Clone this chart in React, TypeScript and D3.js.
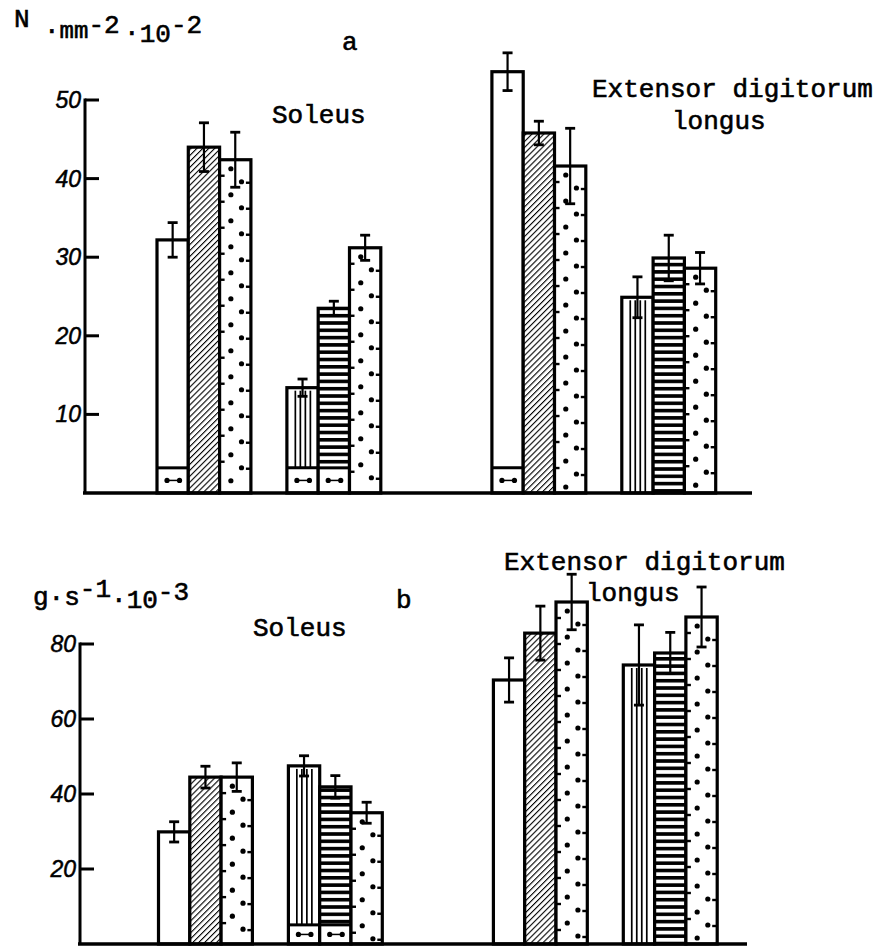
import React from 'react';
import * as d3 from 'd3';

// ---------- DATA ----------
const groupNames = ['Soleus I', 'Soleus II', 'EDL I', 'EDL II'];
const groupFills = [
  ['open', 'hatch', 'dots'],
  ['vstripes', 'hstripes', 'dots'],
  ['open', 'hatch', 'dots'],
  ['vstripes', 'hstripes', 'dots'],
];
// panel a: N·mm^-2·10^-2
const valuesA = [
  [32.2, 44.0, 42.4],
  [13.4, 23.5, 31.2],
  [53.6, 45.8, 41.6],
  [24.9, 29.9, 28.6],
];
const errorsA = [
  [2.2, 3.1, 3.5],
  [1.1, 0.9, 1.6],
  [2.4, 1.5, 4.8],
  [2.6, 2.9, 2.0],
];
const baseA = [
  [3.2, 0, 0],
  [3.2, 3.2, 0],
  [3.2, 0, 0],
  [0, 0, 0],
];
// panel b: g·s^-1·10^-3
const valuesB = [
  [29.9, 44.5, 44.5],
  [47.5, 41.9, 35.0],
  [70.4, 82.9, 91.2],
  [74.4, 77.6, 87.2],
];
const errorsB = [
  [2.7, 2.9, 3.8],
  [2.7, 3.0, 2.8],
  [5.9, 7.2, 7.4],
  [10.7, 5.5, 8.0],
];
const baseB = [
  [0, 0, 0],
  [5.1, 5.1, 0],
  [0, 0, 0],
  [0, 0, 0],
];
const ticksA = [10, 20, 30, 40, 50];
const ticksB = [20, 40, 60, 80];

// ---------- LAYOUT ----------
const W = 889;
const H = 948;
const barW = 31.3;
const smallGap = 1.15; // in bar units
const bigGap = 3.55;
const groupStarts = groupNames.map((_, i) => {
  let s = 0;
  for (let k = 0; k < i; k++) s += 3 + (k === 1 ? bigGap : smallGap);
  return s;
});

const MONO = "'Liberation Mono', 'DejaVu Sans Mono', monospace";
const SANS = "'Liberation Sans', Arial, sans-serif";

type PanelProps = {
  values: number[][];
  errors: number[][];
  bases: number[][];
  ticks: number[];
  yMax: number;
  yTop: number;
  yBottom: number;
  axisX: number;
  xOffset: number;
  baseEnd: number;
  id: string;
};

function Panel({ values, errors, bases, ticks, yMax, yTop, yBottom, axisX, xOffset, baseEnd, id }: PanelProps) {
  const y = d3.scaleLinear().domain([0, yMax]).range([yBottom, yTop]);
  const x = d3.scaleLinear().domain([0, 1]).range([157 + xOffset, 157 + xOffset + barW]);
  const bars: JSX.Element[] = [];
  const overlays: JSX.Element[] = [];

  values.forEach((grp, gi) => {
    grp.forEach((v, bi) => {
      const kind = groupFills[gi][bi];
      const x0 = x(groupStarts[gi] + bi);
      const x1 = x(groupStarts[gi] + bi + 1);
      const w = x1 - x0;
      const yT = y(v);
      const y0 = y(0);
      const key = `${id}-${gi}-${bi}`;
      let fill = 'white';
      if (kind === 'hatch') fill = `url(#hatch)`;
      if (kind === 'hstripes') fill = `url(#hstripe)`;
      bars.push(<rect key={key + 'r'} x={x0} y={yT} width={w} height={y0 - yT} fill={fill} stroke="none" />);
      if (kind === 'vstripes') {
        [0.27, 0.43, 0.59, 0.75].forEach((f, li) => {
          bars.push(
            <line key={key + 'v' + li} x1={x0 + w * f} x2={x0 + w * f} y1={yT + 3} y2={y0} stroke="black" strokeWidth={1.7} />
          );
        });
      }
      if (kind === 'dots') {
        let row = 0;
        for (let yy = yT + 9; yy < y0 - 3; yy += 13) {
          const cx = row % 2 === 0 ? x0 + w * 0.36 : x0 + w * 0.7;
          bars.push(<circle key={key + 'd' + row} cx={cx} cy={yy} r={2.6} fill="black" />);
          if (row % 2 === 1) {
            bars.push(<line key={key + 'tl' + row} x1={x0} x2={x0 + 5} y1={yy - 6} y2={yy - 6} stroke="black" strokeWidth={2.4} />);
            bars.push(<line key={key + 'tr' + row} x1={x1 - 5} x2={x1} y1={yy + 1} y2={yy + 1} stroke="black" strokeWidth={2.4} />);
          }
          row++;
        }
      }
      const b = bases[gi][bi];
      if (b > 0) {
        const yb = y(b);
        bars.push(<rect key={key + 'bb'} x={x0} y={yb} width={w} height={y0 - yb} fill="white" />);
        bars.push(<line key={key + 'bl'} x1={x0} x2={x1} y1={yb} y2={yb} stroke="black" strokeWidth={3} />);
        const my = (yb + y0) / 2;
        bars.push(<line key={key + 'bm'} x1={x0 + w * 0.3} x2={x0 + w * 0.75} y1={my} y2={my} stroke="black" strokeWidth={1.5} />);
        bars.push(<circle key={key + 'bc1'} cx={x0 + w * 0.32} cy={my} r={2.6} fill="black" />);
        bars.push(<circle key={key + 'bc2'} cx={x0 + w * 0.72} cy={my} r={2.6} fill="black" />);
      }
      bars.push(
        <rect key={key + 'o'} x={x0} y={yT} width={w} height={y0 - yT} fill="none" stroke="black" strokeWidth={3.2} />
      );
      const e = errors[gi][bi];
      const cx = x0 + w / 2;
      overlays.push(
        <g key={key + 'e'} stroke="black">
          <line x1={cx} x2={cx} y1={y(v + e)} y2={y(v - e)} strokeWidth={2.2} />
          <line x1={cx - 5} x2={cx + 5} y1={y(v + e)} y2={y(v + e)} strokeWidth={2.8} />
          <line x1={cx - 5} x2={cx + 5} y1={y(v - e)} y2={y(v - e)} strokeWidth={2.8} />
        </g>
      );
    });
  });

  return (
    <g>
      {bars}
      {overlays}
      <line x1={axisX} x2={axisX} y1={y(yMax) - 1.5} y2={y(0)} stroke="black" strokeWidth={3} />
      {ticks.map((t) => (
        <g key={id + 't' + t}>
          <line x1={axisX} x2={axisX + 14} y1={y(t)} y2={y(t)} stroke="black" strokeWidth={3} />
          <text
            x={axisX - 4}
            y={y(t) + 8}
            textAnchor="end"
            fontFamily={SANS}
            fontStyle="italic"
            fontSize={23}
            fill="black"
            stroke="black"
            strokeWidth={0.5}
          >
            {t}
          </text>
        </g>
      ))}
      <line x1={axisX - 2} x2={baseEnd} y1={y(0)} y2={y(0)} stroke="black" strokeWidth={3.5} />
    </g>
  );
}

export default function App() {
  return (
    <svg
      width={W}
      height={H}
      viewBox={`0 0 ${W} ${H}`}
      style={{ position: 'absolute', left: 0, top: 0, background: 'white', display: 'block' }}
    >
      <defs>
        <pattern id="hatch" patternUnits="userSpaceOnUse" width={4.2} height={4.2} patternTransform="rotate(45)">
          <rect width={4.2} height={4.2} fill="white" />
          <line x1={0} y1={0} x2={0} y2={4.2} stroke="black" strokeWidth={2.2} />
        </pattern>
        <pattern id="hstripe" patternUnits="userSpaceOnUse" width={10} height={7.3}>
          <rect width={10} height={7.3} fill="white" />
          <rect y={0} width={10} height={3.6} fill="black" />
        </pattern>
      </defs>
      <rect width={W} height={H} fill="white" />

      {/* Panel a */}
      <g fontFamily={MONO} fontSize={26} fill="black" stroke="black" strokeWidth={0.6}>
        <text x={14} y={27}>
          N
          <tspan dx={14.4} dy={11}>·</tspan>
          <tspan dy={0} fontSize={24}>mm</tspan>
          <tspan dy={-5}>-2</tspan>
          <tspan dx={4.4} dy={7}>·</tspan>
          <tspan dy={2}>10</tspan>
          <tspan dy={-9}>-2</tspan>
        </text>
        <text x={342} y={50}>a</text>
        <text x={272} y={123}>Soleus</text>
        <text x={592} y={97}>Extensor digitorum</text>
        <text x={672} y={129}>longus</text>
      </g>
      <Panel
        id="a"
        values={valuesA}
        errors={errorsA}
        bases={baseA}
        ticks={ticksA}
        yMax={50}
        yTop={100}
        yBottom={493}
        axisX={85}
        xOffset={0}
        baseEnd={752}
      />

      {/* Panel b */}
      <g fontFamily={MONO} fontSize={26} fill="black" stroke="black" strokeWidth={0.6}>
        <text x={33} y={605}>
          g·s
          <tspan dy={-8}>-1</tspan>
          <tspan dy={10}>·</tspan>
          <tspan dy={1}>10</tspan>
          <tspan dy={-8}>-3</tspan>
        </text>
        <text x={396} y={608}>b</text>
        <text x={253} y={636}>Soleus</text>
        <text x={504} y={570}>Extensor digitorum</text>
        <text x={586} y={601}>longus</text>
      </g>
      <Panel
        id="b"
        values={valuesB}
        errors={errorsB}
        bases={baseB}
        ticks={ticksB}
        yMax={80}
        yTop={644}
        yBottom={944}
        axisX={80}
        xOffset={1.5}
        baseEnd={747}
      />
    </svg>
  );
}
